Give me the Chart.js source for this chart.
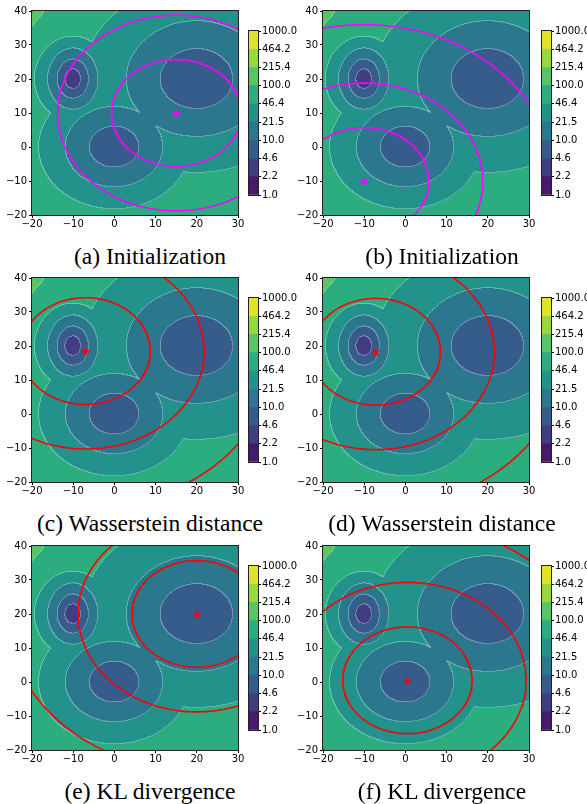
<!DOCTYPE html>
<html>
<head>
<meta charset="utf-8">
<script src="https://cdn.jsdelivr.net/npm/chart.js@4/dist/chart.umd.min.js"></script>
<style>
  body { margin: 0; background: #fff; width: 587px; height: 804px; position: relative; overflow: hidden; }
  canvas { position: absolute; }
  .cap { position: absolute; width: 290px; text-align: center; font: 23.5px/23.5px 'Liberation Serif', 'Times New Roman', serif; color: #000; white-space: nowrap; }
</style>
</head>
<body>
<script>
// contour levels of the colorbar
const levels = [1.0, 2.2, 4.6, 10.0, 21.5, 46.4, 100.0, 215.4, 464.2, 1000.0];
const bandColors = ['#46196a', '#423c82', '#365c8c', '#2a778e', '#22928b', '#2cad80', '#57c466', '#98d73e', '#e0e328'];

// the three modes of the target and the half-widths / half-heights
// of their contour at levels[0..6] (0 = that level is not reached)
const modeCenters = [[-10, 20], [0, 0], [20, 20]];
const modeRx = [
  [0, 0, 1.9, 3.8, 6.1, 9.3, 14],
  [0, 0, 0, 6.0, 11.8, 18.3, 29],
  [0, 0, 0, 8.8, 17.0, 27.6, 42]
];
const modeRy = [
  [0, 0, 2.85, 5.75, 9.0, 12.5, 22],
  [0, 0, 0, 6.0, 11.8, 18.3, 29],
  [0, 0, 0, 8.8, 17.0, 27.6, 42]
];

// fitted gaussian of each panel: mean and contour radii
const fitCenters = [[15, 10], [-10, -10], [-7, 18.5], [-7.2, 18.3], [20, 20], [0.5, 0.5]];
const ringRadii = [15.7, 28.8, 46];
const captions = ['(a) Initialization', '(b) Initialization', '(c) Wasserstein distance',
  '(d) Wasserstein distance', '(e) KL divergence', '(f) KL divergence'];
const fitColors = ['#ff00ff', '#ff00ff', '#ff0000', '#ff0000', '#ff0000', '#ff0000'];

const xTicks = [-20, -10, 0, 10, 20, 30];
const yTicks = [-20, -10, 0, 10, 20, 30, 40];

Chart.defaults.font.family = 'DejaVu Sans';
Chart.defaults.font.size = 10;
Chart.defaults.color = '#000';

const colLeft = [0, 291];
const plotTop = [11, 278, 546];
const cbLeft = [249, 542];
const capCenter = [150, 442];
const capTop = [245, 512, 780];

function hexRgb(h) {
  return [parseInt(h.slice(1, 3), 16), parseInt(h.slice(3, 5), 16), parseInt(h.slice(5, 7), 16)];
}
const bandRgb = bandColors.map(hexRgb);

function bandAt(x, y) {
  let best = 6;
  for (let k = 0; k < modeCenters.length; k++) {
    const dx = x - modeCenters[k][0], dy = y - modeCenters[k][1];
    for (let i = 0; i < modeRx[k].length; i++) {
      const rx = modeRx[k][i], ry = modeRy[k][i];
      if (rx > 0 && (dx / rx) ** 2 + (dy / ry) ** 2 <= 1) {
        best = Math.min(best, Math.max(i - 1, 0));
        break;
      }
    }
  }
  return best;
}

const minus = v => v < 0 ? '\u2212' + (-v) : String(v);

const contourPlugin = {
  id: 'contour',
  beforeDatasetsDraw(chart) {
    const a = chart.chartArea;
    const L = Math.round(a.left), T = Math.round(a.top);
    const W = Math.round(a.right) - L, H = Math.round(a.bottom) - T;
    if (!chart.$field) {
      const xs = chart.scales.x, ys = chart.scales.y;
      const off = document.createElement('canvas');
      off.width = W; off.height = H;
      const octx = off.getContext('2d');
      const img = octx.createImageData(W, H);
      const bands = new Int8Array(W * H);
      for (let py = 0; py < H; py++) {
        const dy = ys.getValueForPixel(T + py + 0.5);
        for (let px = 0; px < W; px++) {
          bands[py * W + px] = bandAt(xs.getValueForPixel(L + px + 0.5), dy);
        }
      }
      for (let py = 0; py < H; py++) {
        for (let px = 0; px < W; px++) {
          const i = py * W + px, b = bands[i];
          const edge = (px + 1 < W && bands[i + 1] !== b) || (py + 1 < H && bands[i + W] !== b);
          const c = bandRgb[b];
          const f = edge ? 0.3 : 0;
          img.data[i * 4] = c[0] + (255 - c[0]) * f;
          img.data[i * 4 + 1] = c[1] + (255 - c[1]) * f;
          img.data[i * 4 + 2] = c[2] + (255 - c[2]) * f;
          img.data[i * 4 + 3] = 255;
        }
      }
      octx.putImageData(img, 0, 0);
      chart.$field = off;
    }
    chart.ctx.drawImage(chart.$field, L, T);
  }
};

const framePlugin = {
  id: 'frame',
  afterDatasetsDraw(chart) {
    const a = chart.chartArea, ctx = chart.ctx;
    ctx.save();
    ctx.strokeStyle = '#222';
    ctx.lineWidth = 1;
    ctx.strokeRect(Math.round(a.left) - 0.5, Math.round(a.top) - 0.5,
      Math.round(a.right) - Math.round(a.left) + 1, Math.round(a.bottom) - Math.round(a.top) + 1);
    ctx.restore();
  }
};

function starImage(color, r) {
  const c = document.createElement('canvas');
  const s = Math.ceil(2 * r + 2);
  c.width = s; c.height = s;
  const g = c.getContext('2d');
  g.fillStyle = color;
  g.beginPath();
  for (let i = 0; i < 10; i++) {
    const rad = i % 2 === 0 ? r : r * 0.38;
    const ang = -Math.PI / 2 + i * Math.PI / 5;
    const px = s / 2 + rad * Math.cos(ang), py = s / 2 + 0.6 + rad * Math.sin(ang);
    if (i === 0) g.moveTo(px, py); else g.lineTo(px, py);
  }
  g.closePath();
  g.fill();
  return c;
}

function makeCanvas(left, top, w, h) {
  const c = document.createElement('canvas');
  c.width = w; c.height = h;
  c.style.left = left + 'px'; c.style.top = top + 'px';
  c.style.width = w + 'px'; c.style.height = h + 'px';
  document.body.appendChild(c);
  return c;
}

for (let p = 0; p < 6; p++) {
  const col = p % 2, row = Math.floor(p / 2);
  const [cx, cy] = fitCenters[p];

  const datasets = ringRadii.map(r => {
    const pts = [];
    for (let t = 0; t <= 240; t++) {
      const ang = t / 240 * 2 * Math.PI;
      pts.push({ x: cx + r * Math.cos(ang), y: cy + r * Math.sin(ang) });
    }
    return { data: pts, showLine: true, pointRadius: 0, borderColor: fitColors[p], borderWidth: 1.6, tension: 0, clip: 0 };
  });
  datasets.push({
    data: [{ x: cx, y: cy }], showLine: false,
    pointStyle: starImage(fitColors[p], 4.8), pointRadius: 5
  });

  const axisCommon = {
    type: 'linear',
    grid: { drawOnChartArea: false, tickLength: 3, color: '#000' },
    border: { color: '#222' }
  };

  const main = makeCanvas(colLeft[col], plotTop[row] - 8, 246, 228);
  new Chart(main, {
    type: 'scatter',
    data: { datasets },
    options: {
      responsive: false,
      animation: false,
      events: [],
      layout: { padding: { top: 8, right: 8, left: 0, bottom: 0 } },
      plugins: { legend: { display: false }, tooltip: { enabled: false } },
      scales: {
        x: Object.assign({}, axisCommon, {
          min: xTicks[0], max: xTicks[xTicks.length - 1],
          afterBuildTicks: s => { s.ticks = xTicks.map(v => ({ value: v })); },
          ticks: { padding: 0, maxRotation: 0, autoSkip: false, callback: minus },
          afterFit: s => { s.height = 16; }
        }),
        y: Object.assign({}, axisCommon, {
          min: yTicks[0], max: yTicks[yTicks.length - 1],
          afterBuildTicks: s => { s.ticks = yTicks.map(v => ({ value: v })); },
          ticks: { padding: 2, autoSkip: false, callback: minus },
          afterFit: s => { s.width = 32; }
        })
      }
    },
    plugins: [contourPlugin, framePlugin]
  });

  const cb = makeCanvas(cbLeft[col] - 4, plotTop[row] + 20 - 8, 57, 180);
  new Chart(cb, {
    type: 'bar',
    data: {
      labels: [''],
      datasets: bandColors.map(c => ({ data: [1], backgroundColor: c, borderWidth: 0, barPercentage: 1, categoryPercentage: 1 }))
    },
    options: {
      responsive: false,
      animation: false,
      events: [],
      layout: { padding: { left: 4, top: 8, bottom: 8, right: 0 } },
      plugins: { legend: { display: false }, tooltip: { enabled: false } },
      scales: {
        x: { display: false, stacked: true },
        y: {
          stacked: true, position: 'right', min: 0, max: levels.length - 1,
          ticks: { stepSize: 1, padding: 1, autoSkip: false, callback: v => levels[v].toFixed(1) },
          grid: { drawOnChartArea: false, tickLength: 3, color: '#000' },
          border: { color: '#222' },
          afterFit: s => { s.width = 44; }
        }
      }
    },
    plugins: [framePlugin]
  });

  const cap = document.createElement('div');
  cap.className = 'cap';
  cap.textContent = captions[p];
  cap.style.left = (capCenter[col] - 145) + 'px';
  cap.style.top = capTop[row] + 'px';
  document.body.appendChild(cap);
}
</script>
</body>
</html>
